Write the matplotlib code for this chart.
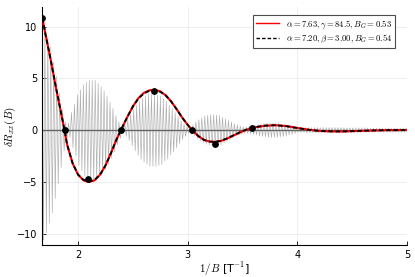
import numpy as np
import matplotlib
matplotlib.use('Agg')
import matplotlib.pyplot as plt

plt.rcParams['mathtext.fontset'] = 'cm'

# raw oscillation: amplitude of each period (symmetric about 0)
raw_x0 = 1.67
raw_period = 0.027
raw_amp = [
    10.6, 9.9, 9.0, 8.0, 6.6, 5.2, 3.6, 2.0, 0.8, 0.7,
    1.7, 2.5, 3.4, 3.9, 4.4, 4.6, 4.8, 4.8, 4.8, 4.5,
    4.2, 3.8, 3.3, 2.7, 2.1, 1.4, 0.8, 0.3, 0.6, 1.0,
    1.5, 2.0, 2.4, 2.8, 3.1, 3.3, 3.5, 3.5, 3.5, 3.4,
    3.3, 3.0, 2.8, 2.4, 2.1, 1.7, 1.3, 0.9, 0.6, 0.3,
    0.4, 0.5, 0.8, 1.0, 1.2, 1.35, 1.45, 1.5, 1.5, 1.45,
    1.4, 1.25, 1.1, 0.95, 0.8, 0.6, 0.5, 0.4, 0.3, 0.3,
    0.35, 0.4, 0.45, 0.55, 0.6, 0.65, 0.7, 0.7, 0.7, 0.7,
    0.65, 0.6, 0.55, 0.45, 0.4, 0.3, 0.2, 0.2, 0.2, 0.25,
    0.25, 0.25, 0.25, 0.25, 0.25, 0.25, 0.25, 0.25, 0.25, 0.25,
    0.25, 0.25, 0.25, 0.22, 0.22, 0.22, 0.22, 0.22, 0.22, 0.22,
    0.22, 0.2, 0.2, 0.2, 0.2, 0.2, 0.2, 0.2, 0.2, 0.2,
    0.2, 0.2, 0.2, 0.2,
]

# fitted envelopes
fit_x = [1.675, 1.70, 1.75, 1.80, 1.85, 1.876, 1.90, 1.95, 2.00, 2.05,
         2.10, 2.15, 2.20, 2.25, 2.30, 2.35, 2.39, 2.45, 2.50, 2.55,
         2.60, 2.65, 2.70, 2.75, 2.80, 2.85, 2.90, 2.95, 3.00, 3.04,
         3.10, 3.15, 3.20, 3.25, 3.30, 3.35, 3.40, 3.45, 3.50, 3.55,
         3.60, 3.70, 3.80, 3.90, 4.00, 4.10, 4.20, 4.30, 4.40, 4.50,
         4.60, 4.80, 5.00]
fit_gamma = [10.8, 9.4, 6.8, 4.0, 1.4, 0.0, -1.4, -3.2, -4.3, -4.85,
             -5.0, -4.85, -4.3, -3.4, -2.2, -0.9, 0.0, 1.3, 2.3, 3.1,
             3.6, 3.85, 3.9, 3.75, 3.35, 2.75, 2.0, 1.2, 0.5, 0.0,
             -0.6, -0.95, -1.1, -1.13, -1.05, -0.85, -0.6, -0.35, -0.1, 0.1,
             0.25, 0.42, 0.48, 0.4, 0.22, 0.05, -0.07, -0.12, -0.13, -0.1,
             -0.06, 0.0, 0.02]
fit_beta = [10.8, 9.4, 6.8, 4.0, 1.4, 0.0, -1.4, -3.2, -4.3, -4.8,
            -4.95, -4.8, -4.3, -3.4, -2.2, -0.9, 0.0, 1.3, 2.3, 3.05,
            3.55, 3.8, 3.85, 3.7, 3.35, 2.75, 2.0, 1.2, 0.5, 0.0,
            -0.6, -0.95, -1.1, -1.12, -1.03, -0.83, -0.58, -0.33, -0.08, 0.12,
            0.27, 0.44, 0.48, 0.38, 0.2, 0.04, -0.07, -0.11, -0.12, -0.09,
            -0.05, 0.0, 0.01]

# extrema / nodes of the data
pts_x = [1.675, 1.876, 2.094, 2.393, 2.69, 3.04, 3.25, 3.59]
pts_y = [10.8, 0.0, -4.73, 0.0, 3.77, 0.0, -1.35, 0.2]

labels = [r'$\alpha = 7.63, \gamma = 84.5, B_G = 0.53$',
          r'$\alpha = 7.20, \beta = 3.00, B_G = 0.54$']

n = len(raw_amp)
raw_xs = raw_x0 + raw_period / 2 * np.arange(2 * n)
raw_ys = np.repeat(raw_amp, 2) * np.tile([1, -1], n)

fig = plt.figure(figsize=(4.15, 2.77), dpi=100)
ax = fig.add_axes([0.101, 0.115, 0.880, 0.860])

ax.plot(raw_xs, raw_ys, color='0.68', lw=0.45, zorder=1)
ax.axhline(0, color='0.4', lw=1.0, zorder=2)
ax.plot(fit_x, fit_gamma, color='red', lw=1.5, label=labels[0], zorder=3)
ax.plot(fit_x, fit_beta, color='black', lw=1.3, ls=(0, (2.5, 1.5)),
        label=labels[1], zorder=4)
ax.scatter(pts_x, pts_y, s=15, color='black', zorder=5)

ax.set_xlim(1.67, 5.0)
ax.set_ylim(-11.1, 11.9)
ax.set_xticks([2, 3, 4, 5])
ax.set_yticks([-10, -5, 0, 5, 10])
ax.grid(True, color='0.92', lw=0.6)
ax.set_axisbelow(True)
for s in ['top', 'right']:
    ax.spines[s].set_visible(False)
ax.tick_params(direction='in', length=3, labelsize=7, width=0.6)
ax.set_xlabel(r'$1/B$ [T$^{-1}$]', fontsize=8, labelpad=0)
ax.set_ylabel(r'$\delta R_{xx}(B)$', fontsize=8)
ax.yaxis.set_label_coords(-0.066, 0.5)

leg = ax.legend(loc='upper right', bbox_to_anchor=(0.967, 0.966), fontsize=6.2,
                fancybox=False, edgecolor='0.3', framealpha=1, handlelength=2.6,
                borderaxespad=0, labelspacing=0.2, borderpad=0.35)
leg.get_frame().set_linewidth(0.8)
for h in leg.get_lines():
    h.set_linewidth(1.0)

fig.savefig('out.png', dpi=100)
